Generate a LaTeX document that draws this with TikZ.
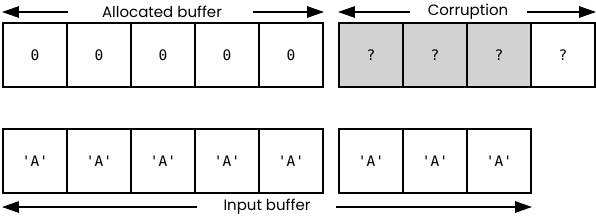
\documentclass[tikz,border=0pt]{standalone}
\usepackage{fontspec}
\setmainfont{Poppins}
\setmonofont{DejaVu Sans Mono}
\usetikzlibrary{arrows.meta}

\tikzset{
  cell/.style={draw, line width=2.4pt, minimum size=64pt, inner sep=0pt,
    font=\ttfamily\fontsize{14.5}{17}\selectfont},
  bad/.style={cell, fill=gray!35},
  lbl/.style={inner sep=1pt, font=\fontsize{15}{18}\selectfont},
  arr/.style={-{Triangle[length=17pt,width=11pt]}, line width=2.4pt}
}

\begin{document}
\begin{tikzpicture}[x=1pt, y=-1pt]
        \useasboundingbox (0,0) rectangle (596,217);

        % Top row: allocated buffer and what lies after it
        \foreach \i in {1,...,5}
            \node[cell] (alloc\i) at ({35+64*(\i-1)}, 55) {0};
        \foreach \i in {1,2,3}
            \node[bad] (corrupt\i) at ({371+64*(\i-1)}, 55) {?};
        \node[cell] (corrupt4) at (563, 55) {?};

        % Bottom row: input copied in
        \foreach \i in {1,...,5}
            \node[cell] (input\i) at ({35+64*(\i-1)}, 161) {'A'};
        \foreach \i in {6,7,8}
            \node[cell] (input\i) at ({371+64*(\i-6)}, 161) {'A'};

        % Labels
        \node[lbl] (allocLbl) at (162, 12) {Allocated buffer};
        \node[lbl] (corruptLbl) at (468, 12) {Corruption};
        \node[lbl] (inputLbl) at (267, 207) {Input buffer};

        % Arrow ends
        \coordinate (allocA) at (68, 12);
        \coordinate (allocB) at (253, 12);
        \coordinate (corruptA) at (410, 12);
        \coordinate (corruptB) at (527, 12);
        \coordinate (inputA) at (197, 207);
        \coordinate (inputB) at (336, 207);

        % Span arrows
        \draw[arr] (allocA) -- (alloc1.west |- allocA);
        \draw[arr] (allocB) -- (alloc5.east |- allocB);
        \draw[arr] (corruptA) -- (corrupt1.west |- corruptA);
        \draw[arr] (corruptB) -- (corrupt4.east |- corruptB);
        \draw[arr] (inputA) -- (input1.west |- inputA);
        \draw[arr] (inputB) -- (input8.east |- inputB);
    \end{tikzpicture}
\end{document}
